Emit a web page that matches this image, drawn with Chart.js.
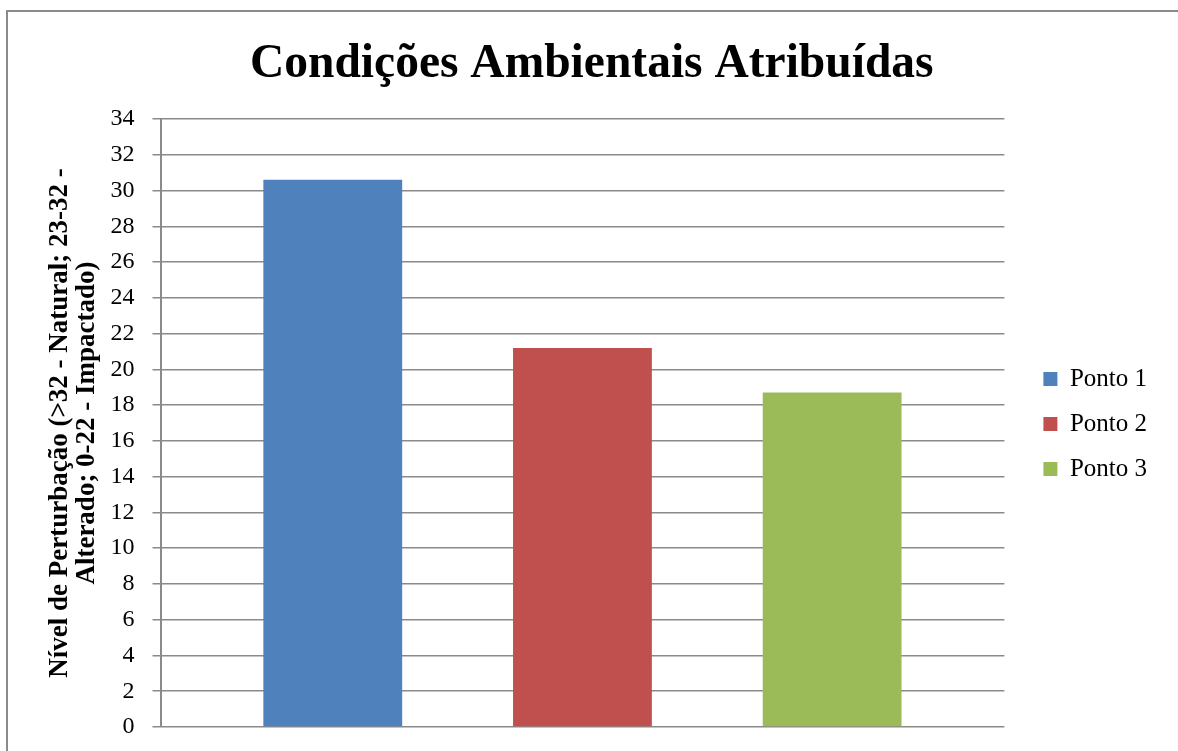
<!DOCTYPE html>
<html lang="pt">
<head>
<meta charset="utf-8">
<title>Condições Ambientais Atribuídas</title>
<script src="https://cdn.jsdelivr.net/npm/chart.js@4/dist/chart.umd.min.js"></script>
<style>
  html, body { margin: 0; padding: 0; background: #fff; overflow: hidden; }
  #frame {
    position: absolute; left: 6px; top: 10px; width: 1300px; height: 900px;
    border: 2px solid #8a8a8a; box-sizing: border-box;
  }
  #wrap { position: absolute; left: 0; top: 0; width: 1178px; height: 751px; }
</style>
</head>
<body>
<div id="frame"></div>
<div id="wrap"><canvas id="chart" width="1178" height="751"></canvas></div>
<script>
// Pontos de amostragem e nível de perturbação atribuído a cada um
const categories = [''];
const seriesNames = ['Ponto 1', 'Ponto 2', 'Ponto 3'];
const seriesValues = [30.6, 21.2, 18.7];
const yMin = 0;
const yMax = 34;
const yStep = 2;

const seriesColors = ['#4F81BD', '#C0504D', '#9BBB59'];
const serif = "'Liberation Serif', 'Times New Roman', serif";

// Desloca a legenda, afastando-a da área do gráfico
const legendOffset = {
  id: 'legendOffset',
  afterLayout(chart, args, opts) {
    const lg = chart.legend;
    if (!lg) return;
    lg.left += opts.dx; lg.right += opts.dx;
    lg.top += opts.dy; lg.bottom += opts.dy;
  }
};

new Chart(document.getElementById('chart'), {
  type: 'bar',
  data: {
    labels: categories,
    datasets: seriesNames.map((name, i) => ({
      label: name,
      data: [seriesValues[i]],
      backgroundColor: seriesColors[i],
      borderWidth: 0,
      categoryPercentage: 0.8876,
      barPercentage: 0.556
    }))
  },
  options: {
    responsive: false,
    animation: false,
    devicePixelRatio: 1,
    layout: { padding: { left: 45.5, right: 40, top: 0, bottom: 24 } },
    plugins: {
      title: {
        display: true,
        text: 'Condições Ambientais Atribuídas',
        color: '#000',
        font: { family: serif, size: 47.5, weight: 'bold', lineHeight: 1.2 },
        padding: { top: 36, bottom: 26 }
      },
      legend: {
        position: 'right',
        align: 'center',
        fullSize: false,
        labels: {
          color: '#000',
          font: { family: serif, size: 25 },
          boxWidth: 14,
          boxHeight: 14,
          padding: 20
        }
      },
      legendOffset: { dx: 19, dy: 1 },
      tooltip: { enabled: false }
    },
    scales: {
      x: { display: false },
      y: {
        min: yMin,
        max: yMax,
        ticks: {
          stepSize: yStep,
          color: '#000',
          padding: 18,
          font: { family: serif, size: 24, lineHeight: 0.5 }
        },
        grid: {
          color: '#8a8a8a',
          lineWidth: 1.5,
          tickLength: 8,
          drawTicks: true
        },
        border: { display: true, color: '#8a8a8a', width: 2 },
        title: {
          display: true,
          text: ['Nível de Perturbação (>32 - Natural; 23-32 -', 'Alterado; 0-22 - Impactado)'],
          color: '#000',
          font: { family: serif, size: 27, weight: 'bold', lineHeight: 1.0 },
          padding: { top: 1, bottom: -8 }
        }
      }
    }
  },
  plugins: [legendOffset]
});
</script>
</body>
</html>
